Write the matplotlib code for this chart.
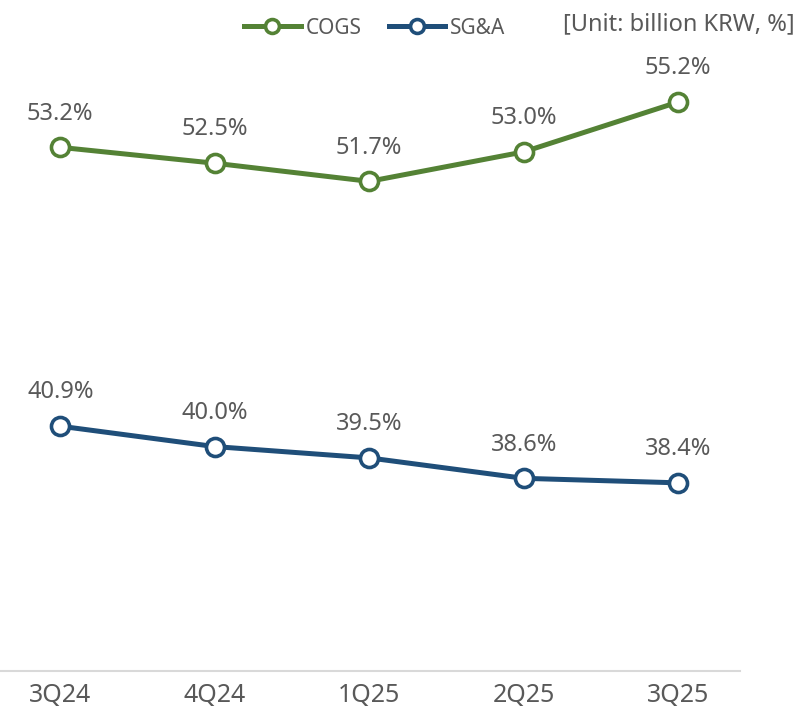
import matplotlib
matplotlib.use("Agg")
import matplotlib.pyplot as plt
from matplotlib.lines import Line2D

plt.rcParams['font.family'] = ['Noto Sans', 'DejaVu Sans']

quarters = ['3Q24', '4Q24', '1Q25', '2Q25', '3Q25']
cogs = [53.2, 52.5, 51.7, 53.0, 55.2]
sga = [40.9, 40.0, 39.5, 38.6, 38.4]

green = '#548235'
blue = '#1f4e79'
gray = '#595959'

fig = plt.figure(figsize=(8, 7.12), dpi=100)
ax = fig.add_axes([0, 41 / 712, 740 / 800, 1 - 41 / 712])

x = list(range(len(quarters)))
for vals, col in [(cogs, green), (sga, blue)]:
    ax.plot(x, vals, color=col, lw=3.6, marker='o', ms=13, mfc='white',
            mec=col, mew=2.6, zorder=3)
    for xi, v in zip(x, vals):
        ax.annotate(f'{v:.1f}%', (xi, v), xytext=(0, 20), textcoords='offset points',
                    ha='center', va='baseline', fontsize=17, color=gray)

ax.set_xlim(-0.39, 4.40)
ax.set_ylim(30.1, 59.7)
ax.set_yticks([])
ax.set_xticks(x)
ax.set_xticklabels(quarters, fontsize=18, color=gray, fontweight='medium')
ax.tick_params(axis='x', length=0, pad=9)
for s in ['top', 'right', 'left']:
    ax.spines[s].set_visible(False)
ax.spines['bottom'].set_color('#d9d9d9')
ax.spines['bottom'].set_linewidth(1.5)

handles = [Line2D([], [], color=green, lw=3.6, marker='o', ms=10, mfc='white', mec=green, mew=2.6),
           Line2D([], [], color=blue, lw=3.6, marker='o', ms=10, mfc='white', mec=blue, mew=2.6)]
fig.legend(handles, ['COGS', 'SG&A'], loc='center', bbox_to_anchor=(375 / 800, 1 - 28 / 712),
           ncol=2, frameon=False, fontsize=15, labelcolor=gray, handlelength=2.7,
           handletextpad=0.25, columnspacing=1.3)
fig.text(795 / 800, 1 - 24 / 712, '[Unit: billion KRW, %]', ha='right', va='center',
         fontsize=17, color=gray)

fig.savefig('out.png', dpi=100)
